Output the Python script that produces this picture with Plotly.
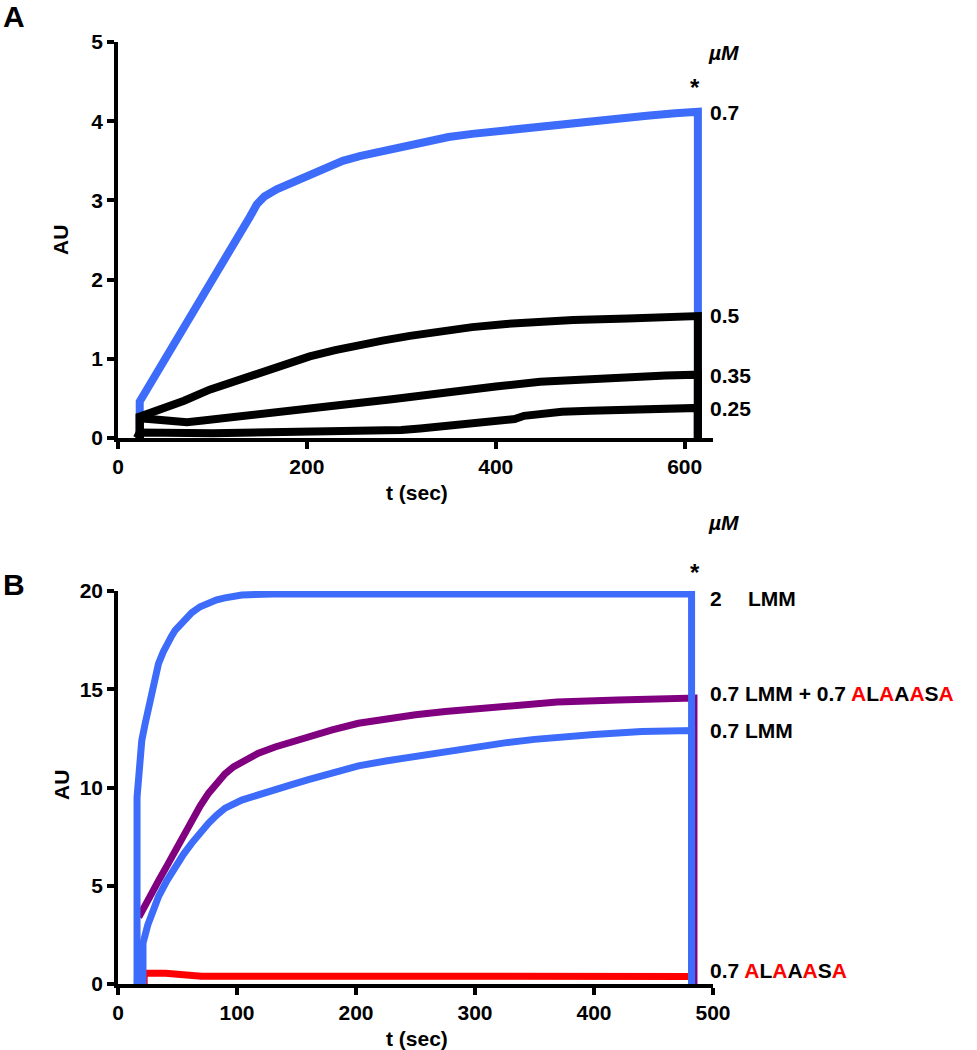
import plotly.graph_objects as go

# ---------------- Panel A data (t in sec, AU) ----------------
tA_07 = [20, 23, 23, 40, 62, 80, 97, 118, 140, 147, 155, 168, 185, 203, 220, 238, 256, 274, 291, 309, 330, 350, 375,
         404, 430, 450, 480, 510, 535, 560, 590, 614, 614]
yA_07 = [0, 0, 0.46, 0.80, 1.24, 1.58, 1.90, 2.33, 2.80, 2.95, 3.05, 3.14, 3.23, 3.33, 3.42, 3.50, 3.56, 3.61, 3.66,
         3.71, 3.76, 3.80, 3.84, 3.88, 3.91, 3.94, 3.98, 4.01, 4.04, 4.07, 4.10, 4.12, 0]

tA_05 = [20, 23, 23, 35, 50, 70, 97, 120, 150, 175, 203, 230, 256, 280, 309, 341, 375, 411, 445, 482, 540, 580, 614, 614]
yA_05 = [0, 0, 0.27, 0.32, 0.38, 0.47, 0.61, 0.70, 0.83, 0.93, 1.03, 1.11, 1.18, 1.23, 1.29, 1.35, 1.40, 1.44, 1.47,
         1.49, 1.51, 1.53, 1.54, 0]

tA_035 = [20, 23, 23, 45, 73, 90, 110, 150, 200, 238, 290, 341, 400, 447, 500, 535, 580, 614, 614]
yA_035 = [0, 0, 0.25, 0.22, 0.20, 0.22, 0.25, 0.31, 0.37, 0.42, 0.49, 0.57, 0.65, 0.71, 0.75, 0.77, 0.79, 0.80, 0]

tA_025 = [20, 23, 100, 200, 260, 300, 320, 341, 370, 394, 410, 420, 430, 447, 470, 500, 517, 560, 614, 614]
yA_025 = [0, 0.07, 0.06, 0.07, 0.08, 0.10, 0.12, 0.14, 0.17, 0.19, 0.21, 0.24, 0.28, 0.31, 0.33, 0.345, 0.35, 0.37,
          0.38, 0]

xticksA = [0, 200, 400, 600]
yticksA = [0, 1, 2, 3, 4, 5]

# ---------------- Panel B data ----------------
tB_2 = [13, 16, 16, 17, 18.5, 20, 23, 26, 30, 34, 38, 41, 45, 48, 55, 62, 69, 76, 83, 90, 97, 104, 130, 200, 300, 400,
        482, 482]
yB_2 = [0, 0, 9.5, 10.5, 11.5, 12.4, 13.3, 14.1, 15.3, 16.3, 16.9, 17.3, 17.7, 18.0, 18.5, 18.9, 19.2, 19.4, 19.55,
        19.65, 19.75, 19.8, 19.85, 19.85, 19.8, 19.85, 19.85, 0]

tB_mix = [17.5, 25, 34, 41, 48, 55, 62, 69, 76, 83, 90, 97, 104, 118, 132, 146, 160, 180, 202, 225, 250, 275, 300, 335,
          369, 420, 484, 484]
yB_mix = [3.4, 4.3, 5.25, 6.0, 6.8, 7.6, 8.34, 9.05, 9.7, 10.25, 10.7, 11.05, 11.3, 11.75, 12.06, 12.33, 12.57, 12.93,
          13.27, 13.5, 13.7, 13.87, 14.0, 14.2, 14.35, 14.45, 14.55, 0]

tB_07 = [21, 21, 25, 29, 34, 41, 48, 55, 62, 69, 76, 83, 90, 104, 118, 132, 146, 160, 180, 202, 225, 250, 275, 300, 325,
         350, 375, 400, 440, 482, 482]
yB_07 = [0, 2.08, 3.0, 3.7, 4.44, 5.25, 5.97, 6.6, 7.17, 7.7, 8.18, 8.6, 8.95, 9.36, 9.65, 9.87, 10.15, 10.4, 10.75,
         11.1, 11.35, 11.6, 11.85, 12.05, 12.27, 12.45, 12.6, 12.7, 12.85, 12.9, 0]

tB_ala = [22, 22, 40, 55, 60, 70, 200, 350, 482]
yB_ala = [0, 0.55, 0.55, 0.45, 0.5, 0.4, 0.4, 0.39, 0.38]

xticksB = [0, 100, 200, 300, 400, 500]
yticksB = [0, 5, 10, 15, 20]

BLUE = "#3D6BFA"
PURPLE = "#800080"
RED = "#FF0000"
BLACK = "#000000"
FONT = "Liberation Sans, Arial, sans-serif"
W, H = 977, 1050

fig = go.Figure()
LWA = 8
LWB = 7
fig.add_trace(go.Scatter(x=tA_07, y=yA_07, mode="lines", line=dict(color=BLUE, width=LWA), xaxis="x", yaxis="y"))
for tt, yy in [(tA_05, yA_05), (tA_035, yA_035), (tA_025, yA_025)]:
    fig.add_trace(go.Scatter(x=tt, y=yy, mode="lines", line=dict(color=BLACK, width=LWA), xaxis="x", yaxis="y"))

fig.add_trace(go.Scatter(x=tB_ala, y=yB_ala, mode="lines", line=dict(color=RED, width=LWB), xaxis="x2", yaxis="y2"))
fig.add_trace(go.Scatter(x=tB_mix, y=yB_mix, mode="lines", line=dict(color=PURPLE, width=LWB), xaxis="x2", yaxis="y2"))
fig.add_trace(go.Scatter(x=tB_07, y=yB_07, mode="lines", line=dict(color=BLUE, width=LWB), xaxis="x2", yaxis="y2"))
fig.add_trace(go.Scatter(x=tB_2, y=yB_2, mode="lines", line=dict(color=BLUE, width=LWB), xaxis="x2", yaxis="y2"))

def px(x):
    return x / W

def py(y):
    return 1 - y / H

xdom = [px(118), px(713)]
axis_common = dict(showline=True, linecolor="black", linewidth=3.5, ticks="outside", ticklen=7,
                   tickwidth=3.5, tickcolor="black", showgrid=False, zeroline=False, automargin=False,
                   tickfont=dict(family=FONT, size=21, color="black", weight="bold"))

fig.update_layout(
    width=W, height=H, margin=dict(l=0, r=0, t=0, b=0, autoexpand=False),
    paper_bgcolor="white", plot_bgcolor="white", showlegend=False,
    xaxis=dict(domain=xdom, range=[0, 630], tickvals=xticksA, anchor="y", **axis_common),
    yaxis=dict(domain=[py(438), py(42)], range=[0, 5], tickvals=yticksA, anchor="x", **axis_common),
    xaxis2=dict(domain=xdom, range=[0, 500], tickvals=xticksB, anchor="y2", **axis_common),
    yaxis2=dict(domain=[py(984), py(591)], range=[0, 20], tickvals=yticksB, anchor="x2", **axis_common),
)

def R(s):
    return f"<span style='color:{RED}'>{s}</span>"

ala = R("A") + "L" + R("A") + "A" + R("A") + "S" + R("A")

ann = []
def add(text, x, y, size=21, xanchor="left", angle=0):
    ann.append(dict(text=text, x=px(x), y=py(y), xref="paper", yref="paper", showarrow=False,
                    xanchor=xanchor, yanchor="middle", textangle=angle,
                    font=dict(family=FONT, size=size, color="black", weight="bold")))

add("A", 1, 16, size=30)
add("B", 1, 584, size=30)
add("AU", 61, 240, xanchor="center", angle=-90)
add("AU", 61, 785, xanchor="center", angle=-90)
add("t (sec)", 417, 492, xanchor="center")
add("t (sec)", 417, 1038, xanchor="center")
add("<i>µM</i>", 706, 52)
add("*", 695, 87, size=24, xanchor="center")
add("0.7", 708, 112)
add("0.5", 708, 315)
add("0.35", 708, 375)
add("0.25", 708, 408)
add("<i>µM</i>", 706, 522)
add("*", 695, 572, size=24, xanchor="center")
add("2", 708, 598)
add("LMM", 746, 598)
add("0.7 LMM + 0.7 " + ala, 708, 693)
add("0.7 LMM", 708, 730)
add("0.7 " + ala, 708, 970)
fig.update_layout(annotations=ann)

fig.write_html("out.html", post_script="document.body.style.margin='0';document.body.style.overflow='hidden';",
               config={"displayModeBar": False})
